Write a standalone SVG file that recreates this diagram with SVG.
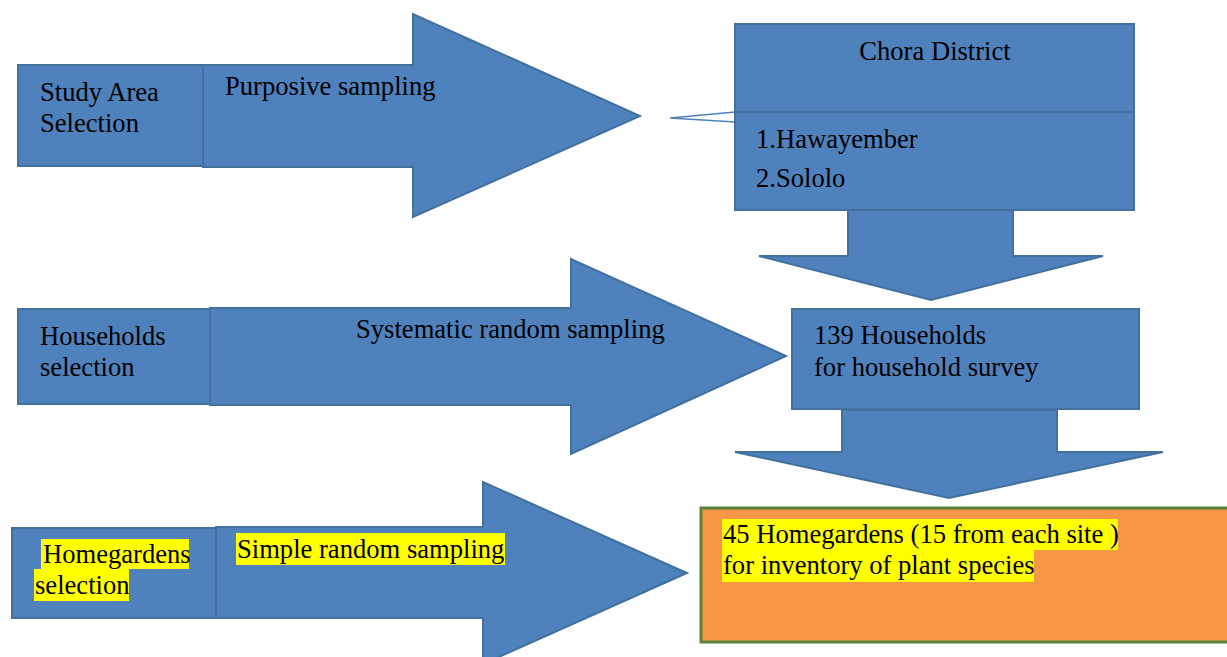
<svg xmlns="http://www.w3.org/2000/svg" width="1227" height="657" viewBox="0 0 1227 657">
<style>
.blk{fill:#4F81BD;stroke:#41719C;stroke-width:2;stroke-linejoin:miter}
.org{fill:#F79646;stroke:#5B8236;stroke-width:3}
text{font-family:"Liberation Serif","DejaVu Serif",serif;font-size:26.6px;fill:#000}
.hl{fill:#FFFF00}
</style>
<rect width="1227" height="657" fill="#FFFFFF"/>
<g id="connectors">
  <g id="arrow-purposive">
    <polygon class="blk" points="203,65 413,65 413,14 640,116 413,217 413,167 203,167"/>
    <text x="225" y="95">Purposive sampling</text>
  </g>
  <path d="M670,118 L735,112 M670,118 L735,122" fill="none" stroke="#4F81BD" stroke-width="1.5"/>
  <g id="arrow-systematic">
    <polygon class="blk" points="210,308 571,308 571,259 786,356 571,454 571,405 210,405"/>
    <text x="356" y="338">Systematic random sampling</text>
  </g>
  <g id="arrow-simple">
    <polygon class="blk" points="216,527 483,527 483,482 687,573 483,664 483,618 216,618"/>
    <rect class="hl" x="236" y="533" width="269" height="32"/>
    <text x="237" y="558">Simple random sampling</text>
  </g>
  <polygon id="down-1" class="blk" points="848,210 1013,210 1013,256 1103,256 931,300 759,256 848,256"/>
  <polygon id="down-2" class="blk" points="842,410 1057,410 1057,452 1163,452 949,498 735,452 842,452"/>
</g>
<g id="study-area">
  <rect class="blk" x="18" y="65" width="185" height="101"/>
  <text x="40" y="101">Study Area</text>
  <text x="40" y="132">Selection</text>
</g>
<g id="chora">
  <rect class="blk" x="735" y="24" width="399" height="186"/>
  <line x1="735" y1="112" x2="1134" y2="112" stroke="#41719C" stroke-width="2"/>
  <text x="935" y="60" text-anchor="middle">Chora District</text>
  <text x="756" y="148">1.Hawayember</text>
  <text x="756" y="187">2.Sololo</text>
</g>
<g id="households-selection">
  <rect class="blk" x="18" y="309" width="192" height="95"/>
  <text x="40" y="345">Households</text>
  <text x="40" y="376">selection</text>
</g>
<g id="households-139">
  <rect class="blk" x="792" y="309" width="347" height="100"/>
  <text x="814" y="344">139 Households</text>
  <text x="814" y="376">for household survey</text>
</g>
<g id="homegardens-selection">
  <rect class="blk" x="12" y="528" width="204" height="90"/>
  <rect class="hl" x="41" y="539" width="148" height="30"/>
  <rect class="hl" x="34" y="569" width="95" height="32"/>
  <text x="43" y="563">Homegardens</text>
  <text x="35" y="594">selection</text>
</g>
<g id="homegardens-45">
  <rect class="org" x="701" y="508" width="545" height="134"/>
  <rect class="hl" x="722" y="519" width="396" height="31"/>
  <rect class="hl" x="722" y="550" width="312" height="32"/>
  <text x="723" y="543">45 Homegardens (15 from each site )</text>
  <text x="723" y="574">for inventory of plant species</text>
</g>
</svg>
